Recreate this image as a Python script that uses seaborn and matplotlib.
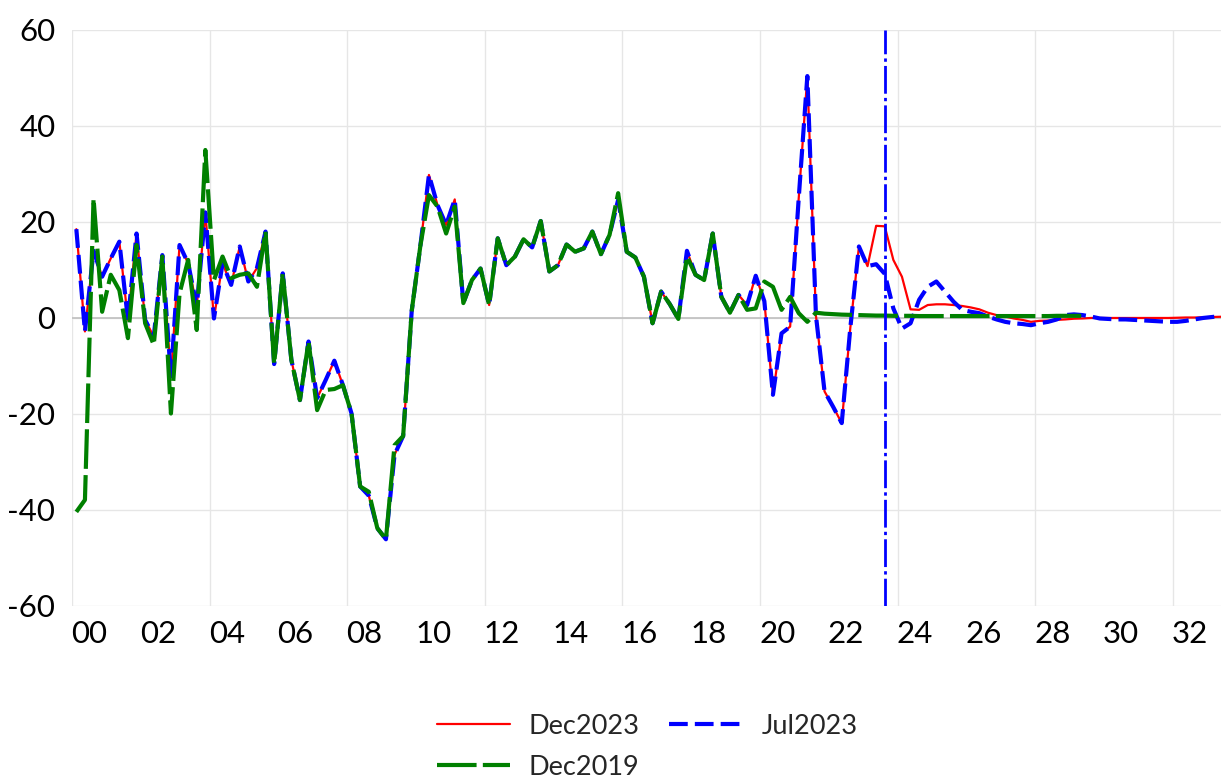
import numpy as np
import matplotlib
matplotlib.use("Agg")
import matplotlib.pyplot as plt
import seaborn as sns

# Quarterly series starting 2000Q1 (annualised growth, %)
start_year = 2000

jul2023 = [
    18.5, -2.8, 14.0, 8.6,      # 2000
    12.4, 15.9, -0.4, 17.6,     # 2001
    -0.4, -3.9, 13.1, -12.2,    # 2002
    15.2, 11.4, 2.4, 22.0,      # 2003
    -0.1, 11.4, 6.9, 14.9,      # 2004
    7.6, 10.4, 18.0, -9.6,      # 2005
    9.3, -8.7, -17.1, -4.9,     # 2006
    -16.7, -12.9, -8.9, -14.0,  # 2007
    -19.9, -35.1, -37.0, -43.8, # 2008
    -46.1, -28.5, -24.6, 1.5,   # 2009
    15.0, 29.8, 23.5, 19.4,     # 2010
    24.7, 3.1, 7.9, 10.3,       # 2011
    2.7, 16.6, 11.0, 12.8,      # 2012
    16.4, 14.7, 20.2, 9.7,      # 2013
    11.0, 15.3, 13.8, 14.5,     # 2014
    18.0, 13.3, 17.3, 24.6,     # 2015
    13.8, 12.6, 8.6, -1.1,      # 2016
    5.5, 2.9, -0.2, 14.0,       # 2017
    9.0, 7.9, 17.6, 4.4,        # 2018
    1.1, 4.8, 2.7, 8.8,         # 2019
    3.5, -16.0, -3.2, -1.8,     # 2020
    25.0, 50.4, 0.5, -15.3,     # 2021
    -18.5, -21.9, -2.0, 14.9,   # 2022
    10.8, 11.2, 9.2, 2.0,       # 2023
    -2.2, -1.1, 3.8, 6.5,       # 2024
    7.6, 5.5, 3.4, 1.7,         # 2025
    1.3, 1.0, 0.3, -0.3,        # 2026
    -0.8, -1.1, -1.25, -1.5,    # 2027
    -1.1, -0.8, -0.3, 0.6,      # 2028
    0.75, 0.6, 0.3, -0.1,       # 2029
    -0.2, -0.3, -0.3, -0.4,     # 2030
    -0.5, -0.6, -0.7, -0.8,     # 2031
    -0.8, -0.6, -0.3, 0.0,      # 2032
    0.2, 0.4, 0.5, 0.6,         # 2033
]

dec2023 = jul2023[:93] + [
    19.2, 19.1, 12.1,           # 2023 Q2-Q4
    8.6, 1.8, 1.7, 2.7,         # 2024
    2.85, 2.85, 2.7, 2.5,       # 2025
    2.2, 1.8, 1.1, 0.6,         # 2026
    0.3, -0.1, -0.4, -0.8,      # 2027
    -0.6, -0.55, -0.4, -0.3,    # 2028
    -0.15, -0.1, 0.0, 0.0,      # 2029
    0.0, 0.0, 0.0, 0.0,         # 2030
    0.0, 0.0, 0.0, 0.0,         # 2031
    0.05, 0.1, 0.1, 0.15,       # 2032
    0.2, 0.25, 0.3, 0.3,        # 2033
]

dec2019 = [
    -40.4, -37.9, 24.9, 1.3,    # 2000
    9.0, 5.8, -4.2, 15.2,       # 2001
    -1.1, -5.6, 12.8, -19.9,    # 2002
    5.1, 12.1, -2.5, 35.0,      # 2003
    7.9, 12.8, 8.3, 9.0,        # 2004
    9.3, 6.5, 18.0, -9.6,       # 2005
    9.3, -8.7, -17.1, -4.9,     # 2006
    -19.2, -15.0, -14.8, -14.0, # 2007
    -19.9, -35.1, -36.2, -43.8, # 2008
    -46.1, -26.5, -24.6, 1.5,   # 2009
    15.0, 25.6, 23.2, 17.6,     # 2010
    23.2, 3.1, 7.9, 10.3,       # 2011
    2.7, 16.6, 11.0, 12.8,      # 2012
    16.4, 14.7, 20.2, 9.7,      # 2013
    11.0, 15.3, 13.8, 14.5,     # 2014
    18.0, 13.3, 17.3, 26.0,     # 2015
    13.8, 12.6, 8.6, -1.1,      # 2016
    5.5, 2.9, -0.2, 12.8,       # 2017
    9.0, 7.9, 17.6, 4.4,        # 2018
    1.1, 4.8, 1.7, 2.0,         # 2019
    7.6, 6.5, 1.7, 4.4,         # 2020
    1.0, -0.8, 1.1, 0.9,        # 2021
    0.8, 0.7, 0.65, 0.6,        # 2022
    0.55, 0.5, 0.5, 0.45,       # 2023
    0.45, 0.45, 0.4, 0.4,       # 2024
    0.4, 0.4, 0.4, 0.4,         # 2025
    0.4, 0.4, 0.4, 0.4,         # 2026
    0.4, 0.4, 0.4, 0.4,         # 2027
    0.4, 0.4, 0.45, 0.45,       # 2028
    0.45, 0.45,                 # 2029 H1
]

series_labels = ["Dec2023", "Jul2023", "Dec2019"]
cutoff_quarter = 2023.625

y_ticks = [-60, -40, -20, 0, 20, 40, 60]
x_tick_years = [2000, 2002, 2004, 2006, 2008, 2010, 2012, 2014, 2016,
                2018, 2020, 2022, 2024, 2026, 2028, 2030, 2032]
x_tick_labels = ["00", "02", "04", "06", "08", "10", "12", "14", "16",
                 "18", "20", "22", "24", "26", "28", "30", "32"]
grid_years = [2000, 2004, 2008, 2012, 2016, 2020, 2024, 2028, 2032]


def quarter_axis(values):
    return start_year + np.arange(len(values)) * 0.25 + 0.125


sns.set_theme(style="white")
plt.rcParams["font.family"] = ["Lato", "DejaVu Sans"]
plt.rcParams["axes.unicode_minus"] = False

fig = plt.figure(figsize=(12.21, 7.81), dpi=100)
ax = fig.add_axes([0.059, 0.2241, 0.941, 0.7375])

h_red = sns.lineplot(x=quarter_axis(dec2023), y=dec2023, ax=ax, color="#ff0000",
                     linewidth=1.6, zorder=3, label=series_labels[0]).get_lines()[-1]
h_blue = sns.lineplot(x=quarter_axis(jul2023), y=jul2023, ax=ax, color="#0000ff",
                      linewidth=3.0, linestyle=(0, (4.5, 1.7)), zorder=4,
                      label=series_labels[1]).get_lines()[-1]
h_green = sns.lineplot(x=quarter_axis(dec2019), y=dec2019, ax=ax, color="#008000",
                       linewidth=3.0, linestyle=(0, (9.5, 1.5)), zorder=5,
                       label=series_labels[2]).get_lines()[-1]
if ax.get_legend() is not None:
    ax.get_legend().remove()

ax.axvline(cutoff_quarter, color="#0000ff", linewidth=2.0,
           linestyle=(0, (10, 1.5, 1.2, 1.5)), zorder=6)
ax.axhline(0, color="#bfbfbf", linewidth=1.2, zorder=1)

ax.set_xlim(2000, 2033.4)
ax.set_ylim(-60, 60)
ax.set_yticks(y_ticks)
ax.set_yticklabels([str(v) for v in y_ticks])
ax.set_xticks([y + 0.5 for y in x_tick_years])
ax.set_xticklabels(x_tick_labels)
ax.set_xticks(grid_years, minor=True)
ax.tick_params(axis="both", which="both", length=0, labelsize=22.5, colors="black")
ax.tick_params(axis="y", pad=12)
ax.tick_params(axis="x", pad=10)

ax.grid(False)
ax.grid(which="minor", axis="x", color="#e6e6e6", linewidth=1.0)
ax.grid(which="major", axis="y", color="#e6e6e6", linewidth=1.0)
ax.set_axisbelow(True)
for side in ax.spines.values():
    side.set_visible(False)
ax.set_xlabel("")
ax.set_ylabel("")

fig.legend(handles=[h_red, h_green, h_blue],
           labels=[series_labels[0], series_labels[2], series_labels[1]],
           ncol=2, loc="center", bbox_to_anchor=(0.53, 0.044), frameon=False,
           fontsize=19.5, handlelength=2.7, handletextpad=0.7,
           columnspacing=1.1, labelspacing=0.6)

fig.savefig("out.png", dpi=100)
